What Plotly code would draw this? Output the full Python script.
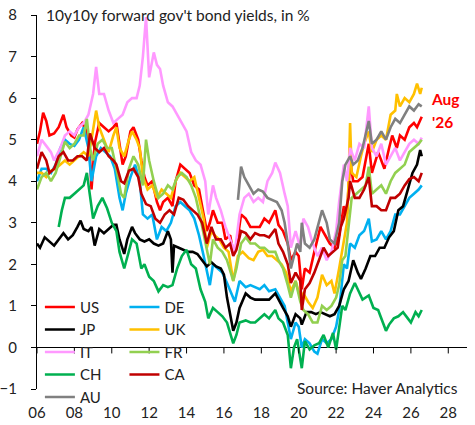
import plotly.graph_objects as go

# ---------------- data ----------------
us_d = ["2006-01","2006-03","2006-05","2006-07","2006-09","2006-12","2007-03","2007-06","2007-08","2007-11",
        "2008-01","2008-03","2008-06","2008-09","2008-11","2008-12","2009-02","2009-05","2009-08","2009-11",
        "2010-02","2010-04","2010-06","2010-08","2010-10","2011-01","2011-03","2011-06","2011-08","2011-10",
        "2011-12","2012-03","2012-06","2012-08","2012-10","2013-01","2013-04","2013-06","2013-09","2013-12",
        "2014-03","2014-06","2014-09","2014-12","2015-02","2015-04","2015-06","2015-09","2015-12","2016-02",
        "2016-05","2016-07","2016-09","2016-12","2017-03","2017-06","2017-09","2017-12","2018-03","2018-06",
        "2018-10","2018-12","2019-03","2019-06","2019-08","2019-11","2020-01","2020-03","2020-05","2020-08",
        "2020-11","2021-03","2021-06","2021-09","2021-12","2022-03","2022-06","2022-08","2022-10","2022-12",
        "2023-03","2023-06","2023-10","2023-12","2024-04","2024-08","2024-11","2025-01","2025-04","2025-06",
        "2025-09","2025-12","2026-03","2026-05","2026-08"]
us_v = [4.9,5.2,5.65,5.45,5.1,5.15,5.3,5.6,5.3,5.1,
        5.05,5.25,5.4,5.2,4.6,3.8,4.9,5.4,5.3,5.2,
        5.3,5.4,4.9,4.4,4.6,5.2,5.3,5.0,4.5,4.1,
        3.9,4.0,3.5,3.3,3.5,3.6,3.4,4.0,4.4,4.3,
        4.2,3.9,3.8,3.2,2.8,3.0,3.3,3.0,3.0,2.6,
        2.7,2.3,2.4,3.2,3.1,2.9,2.9,2.9,3.1,3.0,
        3.3,2.95,2.8,2.5,2.1,2.3,2.2,1.4,1.9,1.8,
        2.3,2.9,2.7,2.5,2.4,2.7,3.4,3.2,4.5,4.0,
        4.0,4.1,4.9,4.2,4.7,4.3,4.8,5.1,4.8,5.1,
        5.0,5.3,5.4,5.3,5.55]

de_d = ["2006-01","2006-04","2006-07","2006-10","2007-01","2007-04","2007-07","2007-10","2008-01","2008-04",
        "2008-07","2008-10","2008-12","2009-03","2009-06","2009-09","2009-12","2010-03","2010-06","2010-08",
        "2010-10","2011-01","2011-04","2011-07","2011-09","2011-12","2012-03","2012-06","2012-09","2012-12",
        "2013-03","2013-06","2013-09","2013-12","2014-03","2014-06","2014-09","2014-12","2015-04","2015-06",
        "2015-09","2015-12","2016-03","2016-06","2016-08","2016-11","2017-03","2017-06","2017-09","2017-12",
        "2018-03","2018-06","2018-10","2019-01","2019-04","2019-06","2019-08","2019-11","2020-01","2020-03",
        "2020-05","2020-08","2020-11","2021-01","2021-04","2021-07","2021-10","2022-01","2022-03","2022-06",
        "2022-08","2022-10","2023-01","2023-04","2023-07","2023-10","2023-12","2024-03","2024-06","2024-09",
        "2024-12","2025-03","2025-06","2025-09","2025-12","2026-03","2026-06","2026-08"]
de_v = [4.0,4.3,4.3,4.2,4.4,4.8,5.0,4.9,4.85,5.0,
        5.3,4.8,4.0,4.6,4.8,4.7,4.6,4.3,3.6,3.3,
        3.7,4.1,4.4,4.0,3.2,3.1,3.2,2.6,2.9,2.8,
        3.0,3.4,3.5,3.4,3.3,3.1,2.7,2.2,1.5,2.0,
        1.9,1.8,1.55,1.3,1.1,1.6,1.45,1.5,1.45,1.4,
        1.5,1.35,1.4,1.2,1.0,0.6,0.2,0.6,0.5,0.0,
        0.2,0.1,-0.1,-0.15,0.2,0.1,0.2,0.5,0.9,2.0,
        1.9,2.5,2.4,2.7,2.8,3.1,2.55,2.6,2.8,2.6,
        2.8,3.2,3.2,3.4,3.6,3.7,3.8,3.9]

jp_d = ["2006-01","2006-03","2006-06","2006-09","2006-12","2007-03","2007-06","2007-09","2007-12","2008-03",
        "2008-05","2008-07","2008-10","2008-12","2009-02","2009-05","2009-08","2009-11","2010-02","2010-04",
        "2010-06","2010-09","2010-11","2011-02","2011-04","2011-07","2011-10","2012-01","2012-04","2012-07",
        "2012-10","2013-01","2013-03","2013-04","2013-05","2013-08","2013-11","2014-02","2014-05","2014-08",
        "2014-11","2015-02","2015-05","2015-08","2015-11","2016-01","2016-03","2016-05","2016-07","2016-09",
        "2016-11","2017-03","2017-06","2017-09","2017-12","2018-03","2018-06","2018-10","2018-12","2019-03",
        "2019-06","2019-08","2019-11","2020-02","2020-03","2020-06","2020-09","2020-12","2021-03","2021-06",
        "2021-09","2021-12","2022-03","2022-06","2022-09","2022-12","2023-03","2023-05","2023-08","2023-11",
        "2024-02","2024-05","2024-08","2024-11","2025-02","2025-05","2025-08","2025-11","2026-02","2026-05",
        "2026-07","2026-08"]
jp_v = [2.5,2.4,2.65,2.55,2.45,2.6,2.75,2.6,2.7,2.9,
        3.05,2.85,2.8,2.9,2.45,2.85,2.75,2.85,2.95,2.95,
        2.6,2.25,2.6,2.9,2.75,2.6,2.55,2.6,2.5,2.45,
        2.5,2.8,2.6,1.8,2.45,2.4,2.35,2.3,2.3,2.25,
        2.1,1.95,2.05,1.95,1.9,1.75,1.2,0.8,0.4,0.6,
        0.95,1.3,1.2,1.15,1.15,1.15,1.15,1.3,1.15,0.95,
        0.75,0.5,0.8,0.7,0.55,0.85,0.85,0.8,0.85,0.8,
        0.75,0.8,1.0,1.4,1.6,2.1,1.8,1.65,1.9,2.2,
        2.2,2.4,2.4,2.65,2.8,3.3,3.4,3.8,4.2,4.4,
        4.75,4.6]

uk_d = ["2006-01","2006-04","2006-07","2006-10","2007-01","2007-04","2007-07","2007-10","2008-01","2008-04",
        "2008-07","2008-10","2008-12","2009-03","2009-05","2009-08","2009-11","2010-02","2010-04","2010-06",
        "2010-09","2010-12","2011-02","2011-05","2011-07","2011-09","2011-12","2012-03","2012-06","2012-09",
        "2012-12","2013-03","2013-06","2013-09","2013-12","2014-03","2014-06","2014-09","2014-12","2015-02",
        "2015-05","2015-07","2015-10","2016-01","2016-04","2016-07","2016-10","2017-01","2017-05","2017-08",
        "2017-11","2018-02","2018-05","2018-08","2018-11","2019-02","2019-05","2019-08","2019-11","2020-02",
        "2020-04","2020-07","2020-10","2021-01","2021-04","2021-07","2021-10","2021-12","2022-03","2022-05",
        "2022-08","2022-09","2022-10","2022-11","2023-02","2023-05","2023-07","2023-10","2023-12","2024-03",
        "2024-06","2024-09","2024-12","2025-03","2025-04","2025-06","2025-09","2025-12","2026-03","2026-05",
        "2026-07","2026-08"]
uk_v = [4.2,4.2,4.1,4.25,4.3,4.4,4.5,4.4,4.5,4.6,
        4.7,4.6,5.0,5.7,5.3,5.0,4.7,5.1,5.3,4.8,
        4.6,5.0,5.2,5.0,4.8,4.1,3.8,3.9,3.6,3.8,
        3.7,3.6,4.0,4.2,4.1,4.0,4.1,3.6,3.1,2.4,
        2.8,2.7,2.6,2.4,2.3,1.6,2.2,2.3,2.15,2.1,
        2.3,2.35,2.2,2.2,2.1,2.0,1.8,1.35,1.6,1.2,
        1.3,1.1,0.95,1.2,1.75,1.5,1.6,1.3,1.9,2.3,
        3.0,4.0,5.4,4.2,4.1,4.6,4.9,5.2,4.7,5.0,
        5.1,5.0,5.6,5.7,6.1,5.8,6.0,5.9,6.1,6.35,
        6.1,6.25]

it_d = ["2006-01","2006-04","2006-07","2006-10","2006-12","2007-04","2007-07","2007-10","2008-01","2008-04",
        "2008-07","2008-10","2009-01","2009-03","2009-05","2009-08","2009-11","2010-02","2010-05","2010-08",
        "2010-11","2011-02","2011-05","2011-07","2011-09","2011-11","2012-01","2012-04","2012-06","2012-08",
        "2012-10","2013-01","2013-04","2013-07","2013-09","2014-01","2014-04","2014-07","2014-10","2015-01",
        "2015-03","2015-06","2015-08","2015-11","2016-02","2016-05","2016-08","2016-11","2017-02","2017-05",
        "2017-08","2017-11","2018-02","2018-05","2018-08","2018-10","2019-01","2019-04","2019-06","2019-08",
        "2019-11","2020-02","2020-04","2020-07","2020-10","2021-01","2021-04","2021-07","2021-10","2022-01",
        "2022-03","2022-06","2022-08","2022-10","2023-01","2023-04","2023-07","2023-10","2023-12","2024-03",
        "2024-06","2024-09","2024-12","2025-03","2025-06","2025-09","2025-12","2026-03","2026-06","2026-08"]
it_v = [4.6,5.0,4.85,4.7,4.5,4.8,5.1,5.2,5.1,5.3,
        5.4,5.6,6.1,6.75,6.1,6.1,5.7,5.4,5.5,5.6,
        5.9,6.0,6.0,6.3,7.0,7.95,6.5,7.1,6.8,6.7,
        6.3,5.9,5.8,5.6,5.5,5.2,4.7,4.5,4.4,4.0,
        3.2,3.9,3.6,3.3,2.9,2.6,2.3,3.2,3.6,3.7,
        3.5,3.6,3.5,4.0,4.2,4.45,4.2,3.7,3.4,2.4,
        2.8,2.4,3.1,2.9,2.5,2.2,2.4,2.1,2.3,2.8,
        3.5,4.4,4.0,4.8,4.5,4.9,4.8,5.8,4.8,4.6,
        4.9,4.4,4.6,4.8,4.5,4.7,4.9,5.0,4.9,5.05]

fr_d = ["2006-01","2006-04","2006-07","2006-10","2007-01","2007-04","2007-07","2007-10","2008-01","2008-04",
        "2008-07","2008-09","2008-11","2009-01","2009-04","2009-07","2009-10","2010-01","2010-04","2010-07",
        "2010-09","2010-12","2011-03","2011-06","2011-09","2011-11","2012-01","2012-04","2012-07","2012-10",
        "2013-01","2013-04","2013-07","2013-10","2014-01","2014-04","2014-07","2014-10","2015-01","2015-04",
        "2015-06","2015-09","2015-12","2016-03","2016-07","2016-09","2016-12","2017-03","2017-06","2017-09",
        "2017-12","2018-03","2018-06","2018-10","2018-12","2019-03","2019-06","2019-08","2019-11","2020-02",
        "2020-04","2020-07","2020-10","2021-01","2021-04","2021-07","2021-10","2022-01","2022-03","2022-05",
        "2022-07","2022-09","2022-11","2023-02","2023-05","2023-08","2023-10","2023-12","2024-03","2024-06",
        "2024-09","2024-12","2025-03","2025-06","2025-09","2025-12","2026-03","2026-06","2026-08"]
fr_v = [3.8,4.1,4.2,4.0,4.2,4.6,4.95,4.8,4.9,5.1,
        5.1,5.5,4.8,4.5,4.9,5.0,4.8,4.8,4.3,3.7,
        3.6,4.3,4.6,4.4,3.9,5.0,4.5,4.0,3.6,3.7,
        3.9,3.8,4.1,4.2,4.1,3.9,3.6,3.1,2.5,2.0,
        2.6,2.4,2.3,2.1,1.6,1.9,2.5,2.65,2.5,2.5,
        2.4,2.4,2.3,2.3,2.1,1.9,1.5,1.2,1.6,1.1,
        0.9,0.8,0.6,0.6,1.0,0.9,1.0,1.2,1.5,2.1,
        2.2,3.0,3.6,3.7,3.8,3.9,4.35,3.7,3.8,3.9,
        3.7,4.0,4.2,4.3,4.4,4.7,4.8,4.9,5.0]

ch_d = ["2007-03","2007-05","2007-07","2007-10","2008-01","2008-04","2008-07","2008-09","2008-11","2009-01",
        "2009-04","2009-07","2009-10","2010-01","2010-04","2010-06","2010-09","2010-11","2011-02","2011-05",
        "2011-08","2011-10","2012-01","2012-04","2012-07","2012-10","2013-01","2013-04","2013-07","2013-10",
        "2014-01","2014-04","2014-07","2014-10","2015-01","2015-03","2015-06","2015-09","2015-12","2016-03",
        "2016-07","2016-09","2016-11","2017-03","2017-06","2017-09","2017-12","2018-03","2018-06","2018-10",
        "2018-12","2019-03","2019-06","2019-08","2019-10","2019-12","2020-03","2020-05","2020-08","2020-11",
        "2021-02","2021-05","2021-08","2021-11","2022-01","2022-03","2022-05","2022-07","2022-10","2023-01",
        "2023-04","2023-06","2023-10","2024-01","2024-04","2024-07","2024-09","2024-11","2025-02","2025-05",
        "2025-08","2025-11","2026-01","2026-04","2026-06","2026-08"]
ch_v = [2.9,3.3,3.6,3.6,3.7,3.8,3.9,4.2,3.6,3.1,
        3.4,3.6,3.35,3.0,2.8,2.3,1.9,2.2,2.6,2.5,
        1.9,2.0,1.7,1.6,1.35,1.5,1.45,1.5,1.9,2.2,
        2.35,2.0,1.9,1.4,1.1,0.7,0.95,0.85,0.75,0.6,
        0.1,0.3,0.6,0.65,0.6,0.6,0.7,0.8,0.7,0.9,
        0.7,0.6,0.3,-0.5,0.0,0.2,-0.5,0.15,-0.05,0.05,
        0.1,0.3,0.0,0.35,-0.05,0.45,1.0,0.9,1.3,1.55,
        1.3,1.15,1.25,0.95,0.9,0.6,0.4,0.55,0.7,0.75,
        0.85,0.7,0.6,0.85,0.75,0.9]

ca_d = ["2006-01","2006-04","2006-07","2006-09","2006-12","2007-03","2007-06","2007-09","2007-12","2008-03",
        "2008-06","2008-09","2008-11","2009-02","2009-05","2009-08","2009-11","2010-02","2010-04","2010-07",
        "2010-09","2010-12","2011-03","2011-06","2011-08","2011-11","2012-02","2012-05","2012-08","2012-11",
        "2013-02","2013-05","2013-08","2013-11","2014-02","2014-05","2014-08","2014-11","2015-02","2015-05",
        "2015-08","2015-11","2016-02","2016-05","2016-07","2016-09","2016-12","2017-03","2017-06","2017-09",
        "2017-12","2018-03","2018-06","2018-10","2018-12","2019-03","2019-06","2019-08","2019-11","2020-02",
        "2020-03","2020-05","2020-08","2020-11","2021-02","2021-05","2021-08","2021-11","2022-02","2022-04",
        "2022-06","2022-09","2022-10","2023-01","2023-04","2023-07","2023-10","2023-12","2024-03","2024-06",
        "2024-09","2024-12","2025-03","2025-06","2025-09","2025-12","2026-03","2026-06","2026-08"]
ca_v = [4.3,4.7,4.5,4.2,4.3,4.6,4.7,4.5,4.5,4.6,
        4.6,4.5,5.15,4.8,4.7,4.8,4.6,4.5,4.4,4.0,
        3.95,4.25,4.3,4.1,3.7,3.45,3.4,3.1,3.0,3.2,
        3.3,3.2,3.6,3.55,3.4,3.3,3.2,3.0,2.5,2.9,
        2.6,2.6,2.4,2.5,2.2,2.35,2.8,2.75,2.6,2.75,
        2.7,2.7,2.65,2.85,2.5,2.3,2.0,1.55,1.8,1.6,
        0.9,1.4,1.55,1.8,2.1,2.4,2.2,2.3,2.4,2.9,
        3.1,3.6,4.0,3.6,3.6,3.8,4.1,3.4,3.4,3.3,
        3.3,3.6,3.6,3.7,3.9,4.05,4.1,4.0,4.2]

au_d = ["2016-10","2016-12","2017-02","2017-05","2017-08","2017-11","2018-02","2018-05","2018-08","2018-11",
        "2019-02","2019-04","2019-06","2019-08","2019-10","2019-12","2020-02","2020-03","2020-05","2020-08",
        "2020-11","2021-02","2021-04","2021-07","2021-09","2021-12","2022-03","2022-05","2022-07","2022-10",
        "2022-12","2023-03","2023-06","2023-10","2023-12","2024-03","2024-06","2024-09","2024-12","2025-03",
        "2025-06","2025-09","2025-12","2026-03","2026-06","2026-08"]
au_v = [3.55,4.35,4.1,3.9,3.7,3.8,3.75,3.6,3.55,3.5,
        3.3,3.0,2.5,1.9,2.2,2.5,2.3,3.0,2.5,2.4,
        2.6,3.0,3.3,3.0,2.6,2.5,3.0,4.0,4.4,4.6,
        4.4,4.5,4.8,5.45,4.9,5.0,5.2,5.0,5.3,5.5,
        5.4,5.6,5.8,5.7,5.85,5.8]

# series in legend order: (name, dates, values, colour, legend column)
series = [
    ("US", us_d, us_v, "#FF0000", "legend"),
    ("DE", de_d, de_v, "#00B0F0", "legend2"),
    ("JP", jp_d, jp_v, "#000000", "legend"),
    ("UK", uk_d, uk_v, "#FFC000", "legend2"),
    ("IT", it_d, it_v, "#FF99FF", "legend"),
    ("FR", fr_d, fr_v, "#92D050", "legend2"),
    ("CH", ch_d, ch_v, "#00B050", "legend"),
    ("CA", ca_d, ca_v, "#C00000", "legend2"),
    ("AU", au_d, au_v, "#808080", "legend"),
]

tick_years = list(range(2006, 2029, 2))
y_ticks = list(range(-1, 9))

TITLE = "10y10y forward gov't bond yields, in %"
SOURCE = "Source: Haver Analytics"
FONT = "Lato"
TXT = "#222222"

# ---------------- figure ----------------
fig = go.Figure()
for name, d, v, col, lg in series:
    fig.add_trace(go.Scatter(x=d, y=v, mode="lines", name=name,
                             line=dict(color=col, width=2.6), legend=lg))

shapes = []
for yr in tick_years:
    shapes.append(dict(type="line", xref="x", yref="y",
                       x0=f"{yr}-01-01", x1=f"{yr}-01-01",
                       ysizemode="pixel", yanchor=0, y0=0, y1=-6,
                       line=dict(color="black", width=1)))

legend_common = dict(font=dict(family=FONT, size=15, color=TXT),
                     bgcolor="rgba(0,0,0,0)", itemwidth=30,
                     tracegroupgap=0, yanchor="top", xanchor="left",
                     xref="container", yref="container")

fig.update_layout(
    width=475, height=425,
    margin=dict(l=37, r=8, t=15, b=36, autoexpand=False),
    paper_bgcolor="white", plot_bgcolor="white",
    font=dict(family=FONT, size=15, color=TXT),
    showlegend=True,
    legend=dict(x=0.084, y=0.316, **legend_common),
    legend2=dict(x=0.262, y=0.316, **legend_common),
    xaxis=dict(type="date", range=["2006-01-01", "2029-01-01"],
               tick0="2006-01-01", dtick="M24", tickformat="%y",
               showgrid=False, showline=False, zeroline=False,
               ticks="outside", ticklen=10, tickcolor="rgba(0,0,0,0)",
               tickfont=dict(family=FONT, size=15, color=TXT)),
    yaxis=dict(range=[-1, 8], tickvals=y_ticks, showgrid=False,
               showline=True, linecolor="black", linewidth=1,
               ticks="outside", ticklen=5, tickcolor="black",
               ticklabelstandoff=11,
               zeroline=True, zerolinecolor="black", zerolinewidth=1,
               tickfont=dict(family=FONT, size=15, color=TXT)),
    shapes=shapes,
    annotations=[
        dict(text=TITLE, xref="paper", yref="paper", x=0.016, y=1.0,
             xanchor="left", yanchor="middle", showarrow=False,
             font=dict(family=FONT, size=15.5, color=TXT)),
        dict(text=SOURCE, xref="paper", yref="paper", x=0.984, y=0.003,
             xanchor="right", yanchor="middle", showarrow=False,
             font=dict(family=FONT, size=15.5, color=TXT)),
        dict(text="<b>Aug</b>", xref="paper", yref="paper", x=0.912, y=0.775,
             xanchor="left", yanchor="middle", showarrow=False,
             font=dict(family=FONT, size=15.5, color="#FF0000")),
        dict(text="<b>'26</b>", xref="paper", yref="paper", x=0.914, y=0.714,
             xanchor="left", yanchor="middle", showarrow=False,
             font=dict(family=FONT, size=15.5, color="#FF0000")),
    ],
)

fig.write_html("out.html",
               config={"displayModeBar": False},
               post_script="document.body.style.margin='0';document.body.style.overflow='hidden';")
